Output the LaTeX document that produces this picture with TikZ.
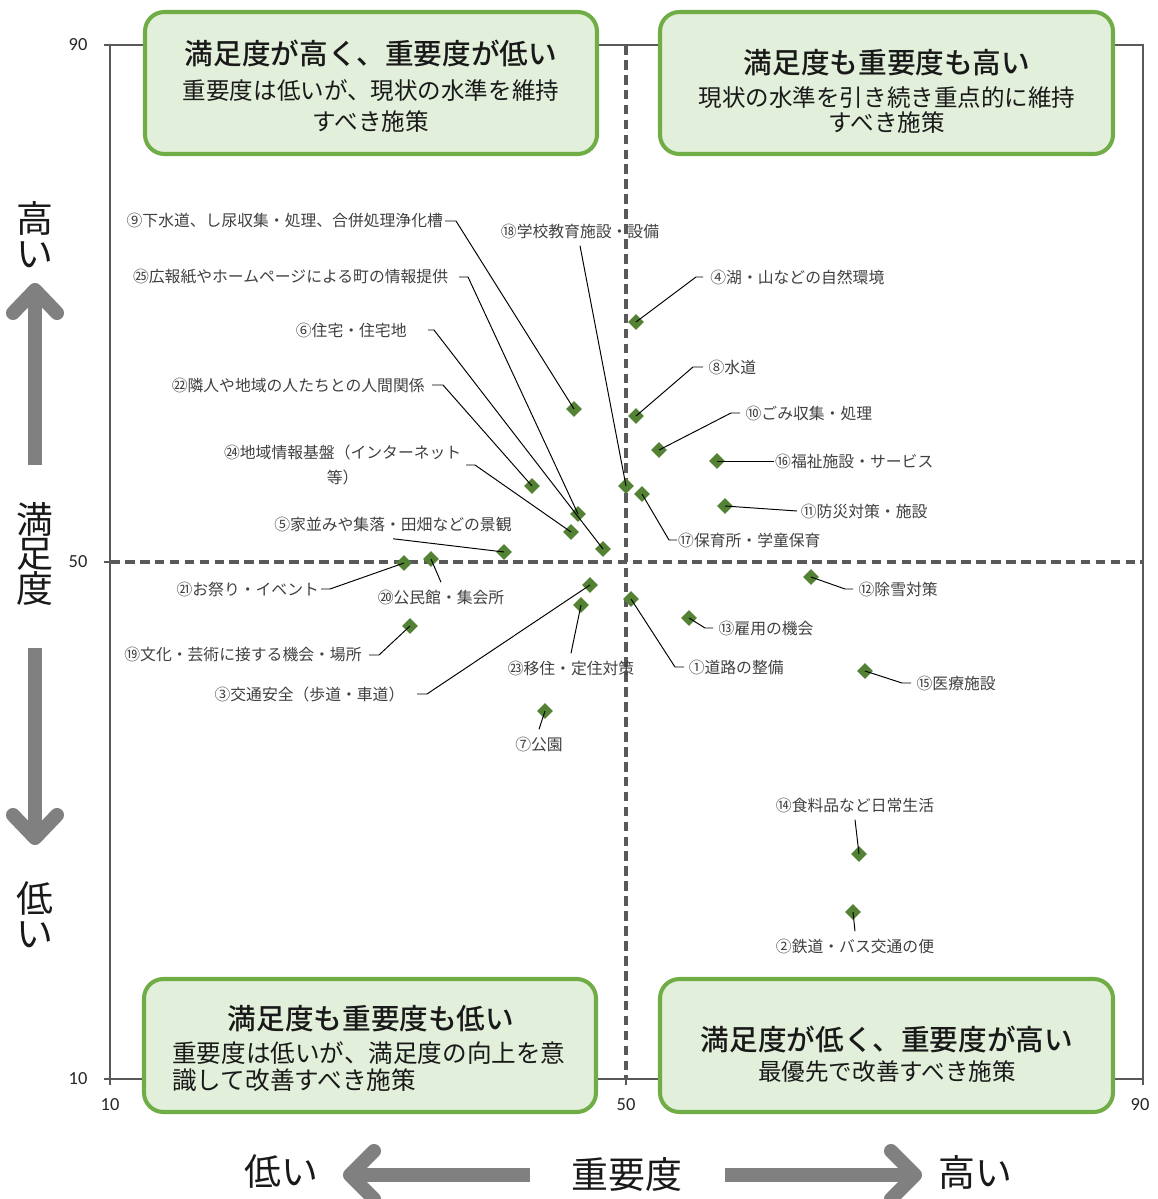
\documentclass[tikz,border=0pt]{standalone}
\usepackage{fontspec}
\setmainfont{Noto Sans CJK JP}[BoldFont={Noto Sans CJK JP Medium}]
\newfontfamily\numfont{Carlito}
\usetikzlibrary{shapes.geometric}

\definecolor{boxgreen}{HTML}{70AD47}
\definecolor{boxfill}{HTML}{E2EFDA}
\definecolor{pntgreen}{HTML}{548235}
\definecolor{framegray}{HTML}{595959}
\definecolor{arrowgray}{HTML}{808080}
\definecolor{lblgray}{HTML}{404040}

\tikzset{
  pnt/.style={diamond, fill=pntgreen, inner sep=0pt, minimum width=0.32cm, minimum height=0.32cm},
  lbl/.style={font=\fontsize{9}{14.7}\selectfont, text=lblgray, inner ysep=1pt, inner xsep=2.5pt},
  lblv/.style={lbl, inner ysep=4pt},
  lead/.style={black, line width=0.55pt},
  quad/.style={draw=boxgreen, fill=boxfill, line width=2.3pt, rounded corners=11pt},
  head/.style={font=\fontsize{16.3}{19}\selectfont\bfseries, text=black!90},
  body/.style={font=\fontsize{13.4}{17.6}\selectfont, text=black!90, align=center},
  axis/.style={framegray, line width=1.1pt},
  mid/.style={framegray, line width=1.9pt, dash pattern=on 5.5pt off 3pt},
  tick/.style={font=\numfont\fontsize{10.5}{12}\selectfont, text=black!85},
  bigarrow/.style={arrowgray, line width=8pt},
  word/.style={font=\fontsize{21}{19.8}\selectfont, align=center, text=black!90}
}

\begin{document}
\begin{tikzpicture}[x=0.02cm, y=-0.02cm]
  \useasboundingbox (0,0) rectangle (1158,1199);

  \draw [axis] (110,45) -- (1143,45) -- (1143,1079) -- (110,1079) -- cycle;
  \foreach \y in {45,562,1079} \draw [axis] (104,\y) -- (110,\y);
  \foreach \x in {110,626,1143} \draw [axis] (\x,1079) -- (\x,1085);
  \draw [mid] (626,45) -- (626,1079);
  \draw [mid] (110,562) -- (1143,562);

  \node [tick] (y90) at (78,45) {90};
  \node [tick] (y50) at (78,562) {50};
  \node [tick] (y10) at (78,1079) {10};
  \node [tick] (x10) at (110,1105) {10};
  \node [tick] (x50) at (626,1105) {50};
  \node [tick] (x90) at (1140,1105) {90};

  \draw [quad] (145,12) rectangle (597,154);
  \draw [quad] (660,12) rectangle (1113,154);
  \draw [quad] (144,979) rectangle (596,1112);
  \draw [quad] (660,979) rectangle (1113,1112);

  \node [head] (tlhead) at (371,54) {満足度が高く、重要度が低い};
  \node [body] (tlbody) at (371,106) {重要度は低いが、現状の水準を維持\\すべき施策};
  \node [head] (trhead) at (887,63) {満足度も重要度も高い};
  \node [body, font=\fontsize{13.4}{14.7}\selectfont] (trbody) at (887,110) {現状の水準を引き続き重点的に維持\\すべき施策};
  \node [head] (blhead) at (371,1019) {満足度も重要度も低い};
  \node [body, align=left, anchor=west, inner sep=0pt, font=\fontsize{14}{15.3}\selectfont] (blbody) at (172,1067) {重要度は低いが、満足度の向上を意\\識して改善すべき施策};
  \node [head] (brhead) at (887,1039) {満足度が低く、重要度が高い};
  \node [body] (brbody) at (887,1072) {最優先で改善すべき施策};

  \foreach \n/\x/\y in {1/631/599, 2/853/912, 3/590/585, 4/636/322, 5/504/552,
      6/603/549, 7/545/711, 8/636/416, 9/574/409, 10/659/450, 11/725/506,
      12/811/577, 13/689/618, 14/859/854, 15/865/671, 16/717/461, 17/642/494,
      18/626/486, 19/410/626, 20/431/559, 21/404/563, 22/532/486, 23/581/605,
      24/571/532, 25/578/514}
    \node [pnt] (p\n) at (\x,\y) {};

  \node [lbl, anchor=east, inner xsep=1pt] (l9) at (445,221) {⑨下水道、し尿収集・処理、合併処理浄化槽};
  \node [lblv] (l18) at (580,231) {⑱学校教育施設・設備};
  \node [lbl, anchor=east, inner xsep=6pt] (l25) at (459,277) {㉕広報紙やホームページによる町の情報提供};
  \node [lbl, anchor=east, inner xsep=12pt] (l6) at (428,330) {⑥住宅・住宅地};
  \node [lbl, anchor=east, inner xsep=4pt] (l22) at (432,385) {㉒隣人や地域の人たちとの人間関係};
  \node [lbl, anchor=east, align=center] (l24) at (466,465) {㉔地域情報基盤（インターネット\\等）};
  \node [lblv] (l5) at (393,524) {⑤家並みや集落・田畑などの景観};
  \node [lbl, anchor=east, inner xsep=1pt] (l21) at (321,589) {㉑お祭り・イベント};
  \node [lblv] (l20) at (441,597) {⑳公民館・集会所};
  \node [lbl, anchor=east, inner xsep=4pt] (l19) at (369,655) {⑲文化・芸術に接する機会・場所};
  \node [lbl, anchor=east, inner xsep=7pt] (l3) at (417,694) {③交通安全（歩道・車道）};
  \node [lblv] (l23) at (571,668) {㉓移住・定住対策};
  \node [lblv] (l7) at (539,744) {⑦公園};
  \node [lbl, anchor=west, inner xsep=4pt] (l4) at (703,277) {④湖・山などの自然環境};
  \node [lbl, anchor=west, inner xsep=3pt] (l8) at (703,367) {⑧水道};
  \node [lbl, anchor=west, inner xsep=3pt] (l10) at (740,413) {⑩ごみ収集・処理};
  \node [lbl, anchor=west, inner xsep=0.5pt] (l16) at (774,461) {⑯福祉施設・サービス};
  \node [lbl, anchor=west, inner xsep=2pt] (l11) at (797,511) {⑪防災対策・施設};
  \node [lbl, anchor=west, inner xsep=0.5pt] (l17) at (677,540) {⑰保育所・学童保育};
  \node [lbl, anchor=west, inner xsep=3pt] (l12) at (853,589) {⑫除雪対策};
  \node [lbl, anchor=west, inner xsep=3pt] (l13) at (713,628) {⑬雇用の機会};
  \node [lbl, anchor=west, inner xsep=2.5pt] (l1) at (684,667) {①道路の整備};
  \node [lbl, anchor=west, inner xsep=3pt] (l15) at (911,683) {⑮医療施設};
  \node [lblv] (l14) at (855,805) {⑭食料品など日常生活};
  \node [lblv] (l2) at (855,946) {②鉄道・バス交通の便};

  \foreach \n/\x/\y in {9/456/221, 25/468/277, 6/434/330, 22/443/385, 24/475/465,
      21/330/589, 19/379/655, 3/427/694, 4/696/277, 8/693/367, 10/731/413,
      17/669/540, 12/845/589, 13/705/628, 1/675/667, 15/902/683}
    \coordinate (e\n) at (\x,\y);
  \foreach \n/\a in {9/east, 25/east, 6/east, 22/east, 24/east, 21/east, 19/east, 3/east,
      4/west, 8/west, 10/west, 17/west, 12/west, 13/west, 1/west, 15/west}
    \draw [lead] (p\n.center) -- (e\n) -- (l\n.\a);
  \foreach \n/\a in {18/south, 5/south, 20/north, 23/north, 7/north, 16/west, 11/west,
      14/south, 2/north}
    \draw [lead] (p\n.center) -- (l\n.\a);

  \coordinate (uptail) at (35,465);
  \coordinate (uptip) at (35,290);
  \coordinate (dntail) at (35,648);
  \coordinate (dntip) at (35,838);
  \coordinate (lftail) at (530,1175);
  \coordinate (lftip) at (350,1175);
  \coordinate (rttail) at (725,1175);
  \coordinate (rttip) at (915,1175);
  \draw [bigarrow] (uptail) -- (uptip);
  \draw [bigarrow, line cap=round, line join=round] (13,313) -- (uptip) -- (57,313);
  \draw [bigarrow] (dntail) -- (dntip);
  \draw [bigarrow, line cap=round, line join=round] (13,815) -- (dntip) -- (57,815);
  \draw [bigarrow] (lftail) -- (lftip);
  \draw [bigarrow, line cap=round, line join=round] (374,1151) -- (lftip) -- (374,1199);
  \draw [bigarrow] (rttail) -- (rttip);
  \draw [bigarrow, line cap=round, line join=round] (891,1151) -- (rttip) -- (891,1199);

  \node [word] (sathi) at (35,235) {高\\い};
  \node [word] (sat) at (35,554) {満\\足\\度};
  \node [word] (satlo) at (35,915) {低\\い};
  \node [word] (implo) at (281,1172) {低い};
  \node [word] (imp) at (627,1175) {重要度};
  \node [word] (imphi) at (975,1172) {高い};
\end{tikzpicture}
\end{document}
